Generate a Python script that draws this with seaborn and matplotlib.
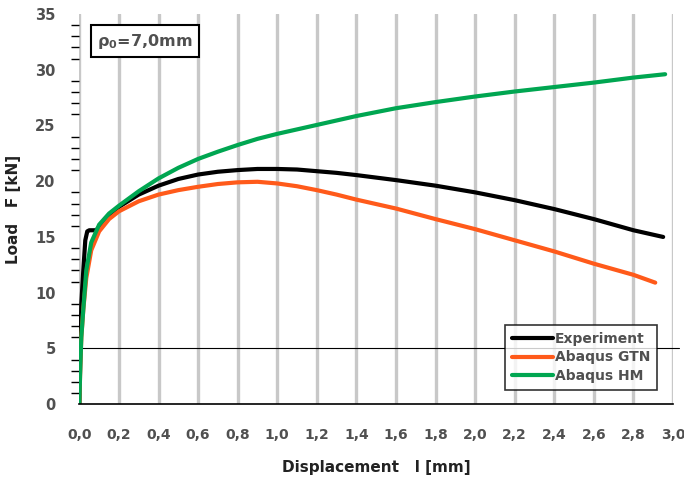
import matplotlib
matplotlib.use('Agg')
import matplotlib.pyplot as plt
import numpy as np
import pandas as pd
import seaborn as sns
from matplotlib.ticker import MultipleLocator

# curve data
exp_x = [0, 0.005, 0.01, 0.02, 0.03, 0.04, 0.05, 0.085, 0.1, 0.15, 0.2, 0.3, 0.4, 0.5, 0.6,
         0.7, 0.8, 0.9, 1.0, 1.1, 1.2, 1.3, 1.4, 1.6, 1.8, 2.0, 2.2, 2.4, 2.6, 2.8, 2.95]
exp_y = [0, 4.5, 9.0, 12.0, 14.7, 15.5, 15.6, 15.6, 15.9, 16.8, 17.7, 18.8, 19.6, 20.2, 20.6,
         20.85, 21.0, 21.1, 21.1, 21.05, 20.9, 20.75, 20.55, 20.1, 19.6, 19.0, 18.3, 17.5, 16.6, 15.6, 15.0]

gtn_x = [0, 0.005, 0.01, 0.02, 0.035, 0.06, 0.1, 0.15, 0.2, 0.3, 0.4, 0.5, 0.6, 0.7, 0.8,
         0.9, 1.0, 1.1, 1.2, 1.3, 1.4, 1.6, 1.8, 2.0, 2.2, 2.4, 2.6, 2.8, 2.91]
gtn_y = [0, 3.5, 6.0, 8.5, 11.3, 13.8, 15.5, 16.6, 17.3, 18.2, 18.8, 19.2, 19.5, 19.75, 19.9,
         19.95, 19.8, 19.55, 19.2, 18.8, 18.35, 17.55, 16.6, 15.7, 14.7, 13.7, 12.6, 11.6, 10.9]

hm_x = [0, 0.005, 0.01, 0.02, 0.035, 0.06, 0.1, 0.15, 0.2, 0.3, 0.4, 0.5, 0.6, 0.7, 0.8,
        0.9, 1.0, 1.2, 1.4, 1.6, 1.8, 2.0, 2.2, 2.4, 2.6, 2.8, 2.96]
hm_y = [0, 3.5, 6.0, 8.5, 12.0, 14.5, 16.1, 17.1, 17.8, 19.1, 20.25, 21.2, 22.0, 22.65, 23.25,
        23.8, 24.25, 25.05, 25.85, 26.55, 27.1, 27.6, 28.05, 28.45, 28.85, 29.3, 29.6]

series_names = ['Experiment', 'Abaqus GTN', 'Abaqus HM']
series_colors = ['#000000', '#ff5a1a', '#00a651']

x_ticks = [0.0, 0.2, 0.4, 0.6, 0.8, 1.0, 1.2, 1.4, 1.6, 1.8, 2.0, 2.2, 2.4, 2.6, 2.8, 3.0]
x_tick_labels = ['0,0', '0,2', '0,4', '0,6', '0,8', '1,0', '1,2', '1,4', '1,6', '1,8',
                 '2,0', '2,2', '2,4', '2,6', '2,8', '3,0']
y_ticks = [0, 5, 10, 15, 20, 25, 30, 35]

df = pd.concat([
    pd.DataFrame({'Displacement': exp_x, 'Load': exp_y, 'Series': series_names[0]}),
    pd.DataFrame({'Displacement': gtn_x, 'Load': gtn_y, 'Series': series_names[1]}),
    pd.DataFrame({'Displacement': hm_x, 'Load': hm_y, 'Series': series_names[2]}),
], ignore_index=True)

sns.set_style('white')
plt.rcParams['font.family'] = ['DejaVu Sans']
tick_color = '#505050'
label_color = '#222222'

fig = plt.figure(figsize=(6.84, 4.84), dpi=100)
ax = fig.add_axes([0.116, 0.165, 0.868, 0.806])

# vertical gray grid lines
for xv in x_ticks:
    ax.axvline(xv, color='#c8c8c8', lw=2.4, zorder=0)

ax.axhline(5, color='black', lw=0.8, xmin=0, xmax=1.01, clip_on=False, zorder=1)

sns.lineplot(data=df, x='Displacement', y='Load', hue='Series', hue_order=series_names,
             palette=series_colors, sort=False, estimator=None, lw=3, ax=ax, zorder=3)

ax.set_xlim(0, 3.0)
ax.set_ylim(0, 35)
ax.set_xticks(x_ticks)
ax.set_xticklabels(x_tick_labels)
ax.set_yticks(y_ticks)
ax.xaxis.set_minor_locator(MultipleLocator(0.02))
ax.yaxis.set_minor_locator(MultipleLocator(1))

ax.tick_params(axis='x', which='major', length=6, width=2.4, color='#c8c8c8',
               pad=11, labelsize=10, labelcolor=tick_color)
ax.tick_params(axis='x', which='minor', length=5, width=1.2, color='#c8c8c8')
ax.tick_params(axis='y', which='major', length=6, width=1, color='black',
               pad=11, labelsize=10.5, labelcolor=tick_color)
ax.tick_params(axis='y', which='minor', length=6, width=1, color='black', left=True)
for lab in ax.get_xticklabels() + ax.get_yticklabels():
    lab.set_fontweight('bold')

for s in ['top', 'right', 'left']:
    ax.spines[s].set_visible(False)
ax.spines['bottom'].set_color('black')
ax.spines['bottom'].set_linewidth(1.2)
ax.spines['bottom'].set_zorder(4)

ax.set_xlabel('Displacement   l [mm]', fontsize=11, fontweight='bold', color=label_color, labelpad=13)
ax.set_ylabel('Load   F [kN]', fontsize=11, fontweight='bold', color=label_color, labelpad=10)

ax.text(0.03, 0.955, r'$\mathregular{\rho_0}$=7,0mm', transform=ax.transAxes,
        fontsize=11.5, fontweight='bold', color=tick_color, va='top', ha='left',
        bbox=dict(boxstyle='square,pad=0.4', fc='white', ec='black', lw=1.5), zorder=5)

leg = ax.legend(loc='lower right', bbox_to_anchor=(0.985, 0.018), frameon=True, fancybox=False,
                edgecolor='black', handlelength=3.0, handletextpad=0.1, borderpad=0.5,
                labelspacing=0.35, prop={'size': 10, 'weight': 'bold'})
leg.get_frame().set_linewidth(1.2)
leg.set_zorder(6)
for t in leg.get_texts():
    t.set_color(tick_color)
for h in leg.get_lines():
    h.set_linewidth(3)

fig.savefig('out.png', dpi=100)
